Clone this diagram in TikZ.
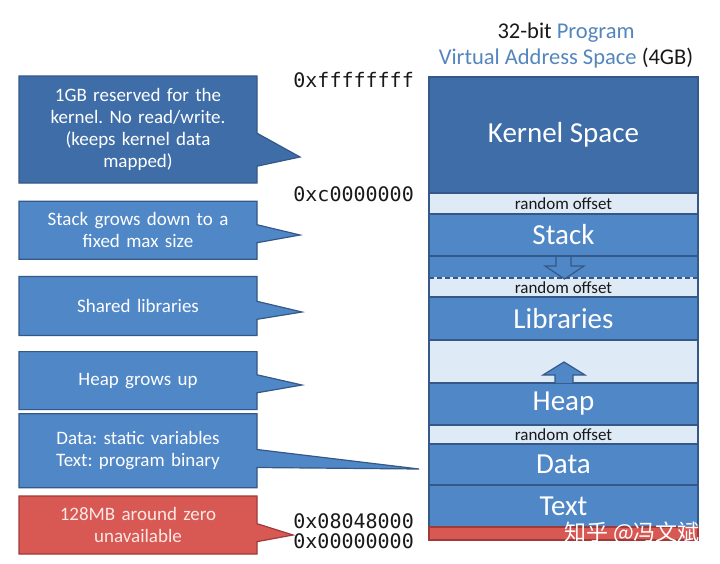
\documentclass[tikz,border=0pt]{standalone}
\usepackage{fontspec}
\setmainfont{Carlito}
\newfontfamily\addrfont{DejaVu Sans Mono}
\newfontfamily\cjk{Noto Sans CJK SC}
\usetikzlibrary{positioning, shapes.callouts}
\definecolor{kerblue}{RGB}{62,109,168}
\definecolor{segblue}{RGB}{79,135,199}
\definecolor{palblue}{RGB}{223,234,247}
\definecolor{edgeblue}{RGB}{52,88,136}
\definecolor{segred}{RGB}{216,88,84}
\definecolor{edgered}{RGB}{160,58,56}
\definecolor{titleblue}{RGB}{84,134,190}
\definecolor{inkdark}{RGB}{25,25,25}
\frenchspacing
\tikzset{
  seg/.style={rectangle, draw=edgeblue, fill=segblue, line width=1.5pt,
    minimum width=269pt, outer sep=0pt, inner sep=0pt, text=white,
    font=\fontsize{29}{32}\selectfont},
  kerseg/.style={seg, fill=kerblue},
  offseg/.style={seg, fill=palblue, text=inkdark, font=\fontsize{17}{18}\selectfont},
  gapseg/.style={seg, fill=palblue},
  redseg/.style={seg, fill=segred, draw=edgered},
  note/.style={rectangle callout, draw=edgeblue, fill=segblue, line width=1.2pt,
    minimum width=238pt, text width=225pt, align=center, text=white,
    font=\fontsize{19}{22}\selectfont, callout pointer width=18pt},
  kernote/.style={note, fill=kerblue},
  rednote/.style={note, fill=segred, draw=edgered, text={rgb,255:red,252;green,232;blue,228}},
  addr/.style={anchor=east, inner sep=0pt, text=inkdark, font=\addrfont\fontsize{20}{20}\selectfont},
  growarrow/.style={fill=segblue, draw=edgeblue, line width=1.2pt, line join=miter}
}
\begin{document}
\begin{tikzpicture}[x=1pt, y=-1pt, node distance=0pt]
  \useasboundingbox[fill=white] (0,0) rectangle (720,563);
  % title
  \node[align=center, text=inkdark, font=\fontsize{22.5}{26}\selectfont] (title) at (566,45)
    {32-bit \textcolor{titleblue}{Program}\\\textcolor{titleblue}{Virtual Address Space} (4GB)};
  % address space column
  \node[kerseg, minimum height=116pt] (kernel) at (563.5,135) {Kernel Space};
  \node[offseg, minimum height=21pt, below=of kernel] (rnd1) {random offset};
  \node[seg, minimum height=42pt, below=of rnd1] (stack) {Stack};
  \node[seg, minimum height=22pt, below=of stack] (gap1) {};
  \node[offseg, minimum height=19pt, below=of gap1] (rnd2) {random offset};
  \node[seg, minimum height=43pt, below=of rnd2] (libs) {Libraries};
  \node[gapseg, minimum height=43pt, below=of libs] (gap2) {};
  \node[seg, minimum height=42pt, below=of gap2] (heap) {Heap};
  \node[offseg, minimum height=19pt, below=of heap] (rnd3) {random offset};
  \node[seg, minimum height=41pt, below=of rnd3] (data) {Data};
  \node[seg, minimum height=42pt, below=of data] (text) {Text};
  \node[redseg, minimum height=13pt, below=of text] (zero) {};
  % dashed limit of the stack
  \draw[palblue, line width=2pt] (gap1.south west) ++(1,0) -- ([xshift=-1pt]gap1.south east);
  \draw[edgeblue, line width=2pt, dash pattern=on 5pt off 3pt] (gap1.south west) -- (gap1.south east);
  % growth arrows
  \draw[growarrow] (556,257) -- (556,266) -- (545,266) -- (564.5,279) -- (584,266) -- (571,266) -- (571,257);
  \draw[growarrow] (555,383) -- (555,375) -- (543,375) -- (564,362) -- (585,375) -- (573,375) -- (573,383);
  % addresses
  \node[addr] (aTop) at (414,80) {0xffffffff};
  \node[addr] (aKer) at (414,194) {0xc0000000};
  \node[addr] (aText) at (414,521) {0x08048000};
  \node[addr] (aZero) at (414,541) {0x00000000};
  % callouts
  \coordinate (pKer) at (300,157);
  \coordinate (pStack) at (300,235);
  \coordinate (pLibs) at (302,312);
  \coordinate (pHeap) at (302,385);
  \coordinate (pData) at (419,469);
  \coordinate (pZero) at (293,535);
  \node[kernote, minimum height=107pt, callout pointer width=33pt, callout absolute pointer={(pKer)}] (nKer) at (138,129.5)
    {1GB reserved for the\\kernel. No read/write.\\(keeps kernel data\\mapped)};
  \node[note, minimum height=58pt, below=17pt of nKer, callout absolute pointer={(pStack)}] (nStack)
    {Stack grows down to a\\fixed max size};
  \node[note, minimum height=59pt, below=16pt of nStack, callout absolute pointer={(pLibs)}] (nLibs)
    {Shared libraries};
  \node[note, minimum height=58pt, below=15pt of nLibs, callout absolute pointer={(pHeap)}] (nHeap)
    {Heap grows up};
  \node[note, minimum height=74pt, below=3pt of nHeap, callout absolute pointer={(pData)}] (nData)
    {Data: static variables\\Text: program binary};
  \node[rednote, minimum height=58pt, below=7pt of nData, callout absolute pointer={(pZero)}] (nZero)
    {128MB around zero\\unavailable};
  % watermark
  \node[text=white, font=\cjk\fontsize{22}{24}\selectfont] (mark) at (632,533) {知乎 @冯文斌};
\end{tikzpicture}
\end{document}
